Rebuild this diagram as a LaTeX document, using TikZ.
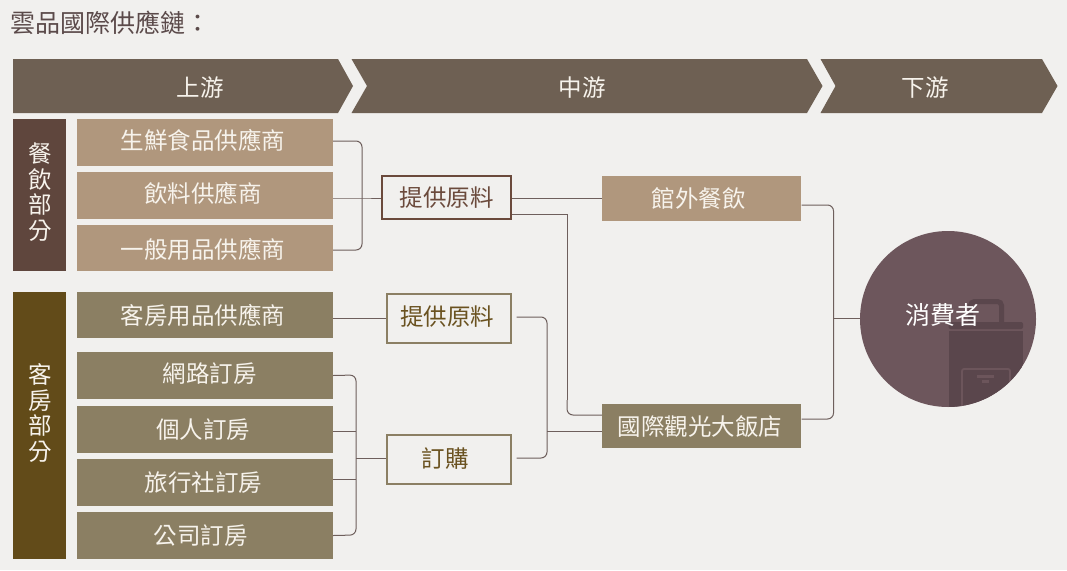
\documentclass[tikz,border=0pt]{standalone}
\usepackage{fontspec}
\usepackage{xcolor}
\usetikzlibrary{positioning}
\newfontfamily\cjk{Noto Sans CJK TC}
\definecolor{paper}{HTML}{F1F0EE}
\definecolor{bandbrown}{HTML}{6E6053}
\definecolor{caterdark}{HTML}{5F463D}
\definecolor{catertan}{HTML}{B0977D}
\definecolor{roomdark}{HTML}{624B19}
\definecolor{roomtan}{HTML}{8B7F63}
\definecolor{buyer}{HTML}{6D565C}
\definecolor{bagdark}{HTML}{5A464C}
\definecolor{baglight}{HTML}{6C555B}
\definecolor{titleink}{HTML}{5B4A4A}
\definecolor{caterink}{HTML}{6B4A3C}
\definecolor{roomink}{HTML}{6A5220}
\definecolor{linkink}{HTML}{6E5F5C}
\definecolor{softwhite}{HTML}{F7F3EC}
\newcommand{\nudge}[3]{\hspace*{#1pt}\raisebox{#2pt}[\height][\depth]{#3}}
\tikzset{
  every node/.style={font=\cjk\fontsize{23.5}{25.5}\selectfont, inner sep=0pt},
  bandtext/.style={text=softwhite},
  sidetext/.style={text=softwhite, align=center},
  catbox/.style={fill=catertan, text=softwhite, minimum width=256pt},
  roombox/.style={fill=roomtan, text=softwhite, minimum width=256pt},
  stagecat/.style={draw=caterink, line width=2pt, fill=paper, text=caterink},
  stageroom/.style={draw=roomtan, line width=2pt, fill=paper, text=roomink},
  link/.style={draw=linkink, line width=1pt, rounded corners=6pt}
}
\begin{document}
\begin{tikzpicture}[x=1pt,y=-1pt]
  \fill[paper] (0,0) rectangle (1067,570);
  \useasboundingbox (0,0) rectangle (1067,570);

  %title
  \node[font=\cjk\fontsize{25}{26}\selectfont, text=titleink, anchor=west] (title) at (10,23) {雲品國際供應鏈：};

  %chevrons
  \fill[bandbrown] (13,59) -- (338,59) -- (353,86) -- (338,113) -- (13,113) -- cycle;
  \fill[bandbrown] (351.5,59) -- (807,59) -- (822.5,86) -- (807,113) -- (351.5,113) -- (367,86) -- cycle;
  \fill[bandbrown] (820.5,59) -- (1042,59) -- (1057.5,86) -- (1042,113) -- (820.5,113) -- (835.5,86) -- cycle;
  \node[bandtext] (upstream) at (200,88) {上游};
  \node[bandtext] (midstream) at (582,88) {中游};
  \node[bandtext] (downstream) at (925,88) {下游};

  %side bars
  \fill[caterdark] (13,119) rectangle (66,271);
  \fill[roomdark] (13,292) rectangle (66,559);
  \node[sidetext] (catering) at (40,192) {餐\\飲\\部\\分};
  \node[sidetext] (rooms) at (40,413) {客\\房\\部\\分};

  %supplier boxes
  \node[catbox, minimum height=47pt] (fresh) at (205,142.5) {\nudge{-4}{2}{生鮮食品供應商}};
  \node[catbox, minimum height=47pt] (drinks) at (205,195.5) {\nudge{-4}{2}{飲料供應商}};
  \node[catbox, minimum height=46pt] (general) at (205,248) {\nudge{-4}{-1}{一般用品供應商}};
  \node[roombox, minimum height=46pt] (amenity) at (205,315) {\nudge{-4}{0}{客房用品供應商}};
  \node[roombox, minimum height=47pt] (online) at (205,375.5) {\nudge{9}{2}{網路訂房}};
  \node[roombox, minimum height=47pt] (single) at (205,429.5) {\nudge{-4}{0}{個人訂房}};
  \node[roombox, minimum height=47pt] (agency) at (205,482.5) {\nudge{-3}{0}{旅行社訂房}};
  \node[roombox, minimum height=47pt] (company) at (205,535.5) {\nudge{-9}{0}{公司訂房}};

  %circle with bag
  \fill[buyer] (948,319) circle (88);
  \begin{scope}
    \clip (948,319) circle (88);
    \draw[bagdark, line width=5pt, rounded corners=4pt] (970.5,325) -- (970.5,301.5) -- (1001.5,301.5) -- (1001.5,325);
    \fill[bagdark, rounded corners=2pt] (948.5,329) -- (948.5,322) -- (1023,322) -- (1023,329) -- cycle;
    \fill[bagdark] (948.5,331) rectangle (1023,410);
    \draw[baglight, line width=1.8pt, rounded corners=2pt] (962,412) -- (962,369) -- (1010,369) -- (1010,412);
    \fill[baglight] (977,375) rectangle (994,378);
    \fill[baglight] (982,380) rectangle (989,382.5);
  \end{scope}

  %connectors
  \coordinate (catfork) at (362,198);
  \coordinate (roomfork) at (356,458);
  \coordinate (hotelfork) at (547,431);
  \coordinate (buyerfork) at (833.5,318);

  \node[stagecat, minimum width=129pt, minimum height=43pt] (catraw) at (446.5,197.5) {提供原料};
  \node[stageroom, minimum width=124pt, minimum height=49pt] (roomraw) at (449,318) {\nudge{-4}{1}{提供原料}};
  \node[stageroom, minimum width=124pt, minimum height=49pt] (order) at (449,459.5) {\nudge{-8}{1}{訂購}};
  \node[catbox, minimum width=199pt, minimum height=45pt] (takeout) at (701.5,198.5) {\nudge{-6}{0}{館外餐飲}};
  \node[roombox, minimum width=199pt, minimum height=44pt] (hotel) at (701.5,426) {\nudge{-3}{-1}{國際觀光大飯店}};
  \node[font=\cjk\fontsize{25}{26}\selectfont, text=white] (buyer) at (943,315) {消費者};

  \draw[link] ([yshift=1.5pt]fresh.east) -- (362,141) -- (362,250) -- ([yshift=-2pt]general.east |- 0,248);
  \draw[linkink, line width=1pt] (drinks.east |- catfork) -- (catfork) -- (catraw.west |- catfork);
  \draw[linkink, line width=1pt] (catraw.east |- takeout.west) -- (takeout.west);
  \draw[link, rounded corners=0pt] (catraw.east |- 0,214) -- (567,214) -- (567,400);
  \draw[link] (567,400) -- (567,415) -- (hotel.west |- 0,415);
  \draw[linkink, line width=1pt] (amenity.east |- 0,318) -- (roomraw.west |- 0,318);
  \draw[link] (516.5,317) -- (547,317) -- (547,458) -- (516.5,458);
  \draw[linkink, line width=1pt] (hotelfork) -- (hotel.west |- hotelfork);
  \draw[link] (online.east) -- (356,375) -- (356,535) -- (company.east);
  \draw[linkink, line width=1pt] (single.east |- 0,431) -- (356,431);
  \draw[linkink, line width=1pt] (agency.east |- 0,479) -- (356,479);
  \draw[linkink, line width=1pt] (roomfork) -- (order.west |- roomfork);
  \draw[link] (801.5,205) -- (833.5,205) -- (833.5,419) -- (801.5,419);
  \draw[linkink, line width=1pt] (buyerfork) -- (860,318);
\end{tikzpicture}
\end{document}
